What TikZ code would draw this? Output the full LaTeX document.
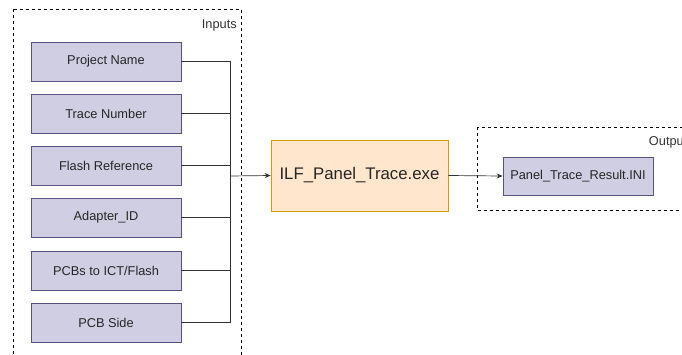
\documentclass[tikz,border=0pt]{standalone}
\usepackage{fontspec}
\setmainfont{Liberation Sans}
\usetikzlibrary{arrows.meta}
\definecolor{inFill}{HTML}{D0CEE2}
\definecolor{inLine}{HTML}{56517E}
\definecolor{exeFill}{HTML}{FFE6CC}
\definecolor{exeLine}{HTML}{D79B00}
\definecolor{wire}{HTML}{333333}
\tikzset{
  inbox/.style={draw=inLine, fill=inFill, line width=0.7pt, minimum width=150pt, minimum height=39pt, inner sep=0pt, font=\fontsize{12.8}{15}\selectfont, text=black!85},
  exebox/.style={draw=exeLine, fill=exeFill, line width=0.7pt, minimum width=177pt, minimum height=71pt, inner sep=0pt, font=\fontsize{16.8}{20}\selectfont, text=black!85},
  group/.style={draw=black, line width=0.9pt, dash pattern=on 3pt off 3pt},
  grouplabel/.style={font=\fontsize{12.8}{15}\selectfont, text=black!80, anchor=north east, inner sep=0pt},
  wireline/.style={draw=wire, line width=0.7pt},
  arrowline/.style={wireline, -{Stealth[length=6pt, width=5pt]}}
}
\begin{document}
\begin{tikzpicture}[x=1pt, y=-1pt]
  \useasboundingbox (0,0) rectangle (682,354);
  \clip (0,0) rectangle (682,354);
  \fill[white] (0,0) rectangle (682,354);

  % group frames
  \draw[group] (13,9) rectangle (241,362);
  \node[grouplabel] (inlabel) at (237,19) {Inputs};
  \draw[group] (477,127) rectangle (698,210);
  \node[grouplabel] (outlabel) at (694,136) {Outputs};

  % input parameters
  \node[inbox] (pn)   at (106,61.5)  {Project Name};
  \node[inbox] (tn)   at (106,113.5) {Trace Number};
  \node[inbox] (fr)   at (106,165.5) {Flash Reference};
  \node[inbox] (ad)   at (106,217.5) {Adapter\_ID};
  \node[inbox] (pcb)  at (106,270.5) {PCBs to ICT/Flash};
  \node[inbox] (side) at (106,322.5) {PCB Side};

  % program and result
  \node[exebox] (exe) at (359.5,175.5) {ILF\_Panel\_Trace.exe};
  \node[inbox, minimum width=150pt, minimum height=38pt] (res) at (578,176) {Panel\_Trace\_Result.INI};

  % collecting bus
  \coordinate (bus) at (230,176);
  \foreach \n in {pn,tn,fr,ad,pcb,side}
    \draw[wireline] (\n.east) -| (bus);
  \draw[arrowline] (bus) -- (exe.west);
  \draw[arrowline] (exe.east) -- (res.west);
\end{tikzpicture}
\end{document}
